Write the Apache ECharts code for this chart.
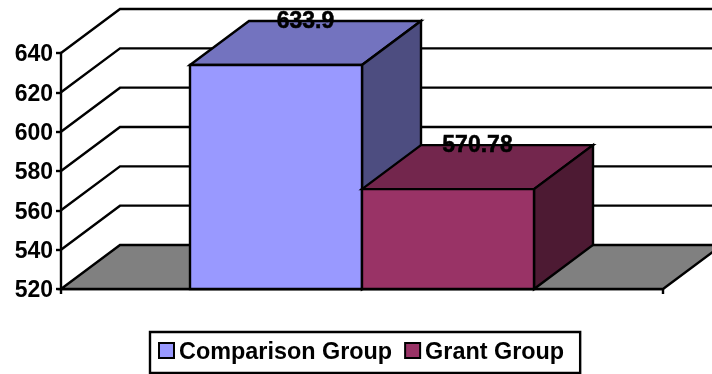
<!DOCTYPE html>
<html><head><meta charset="utf-8">
<style>html,body{margin:0;padding:0;background:#fff}#c{width:712px;height:374px}</style>
<script src="https://cdn.jsdelivr.net/npm/echarts@6/dist/echarts.min.js"></script>
</head><body><div id="c"></div>
<script>
const categories = ['Scores'];
const seriesNames = ['Comparison Group', 'Grant Group'];
const comparisonValues = [633.9];
const grantValues = [570.78];
const labelTexts = ['633.9', '570.78'];
const tickValues = [520, 540, 560, 580, 600, 620, 640];
const frontColors = ['#9999FF', '#993366'];
const topColors = ['#7373BF', '#73264D'];
const sideColors = ['#4D4D80', '#4D1A33'];
const DX = 59, DY = 44, LW = 2.4;
const FONT = 'Liberation Sans';

function poly(points, fill) {
  return { type: 'polygon', shape: { points },
    style: { fill, stroke: '#000', lineWidth: LW, lineJoin: 'miter' } };
}
function wallRender(params, api) {
  const cs = params.coordSys;
  const v = api.value(0);
  const y = api.coord([0, v])[1];
  const x0 = cs.x, x1 = cs.x + cs.width;
  if (v === tickValues[0]) {
    return poly([[x0, y], [x0 + DX, y - DY], [x1 + DX, y - DY], [x1, y]], '#808080');
  }
  return { type: 'polyline', shape: { points: [[x0, y], [x0 + DX, y - DY], [x1 + DX, y - DY]] },
    style: { fill: null, stroke: '#000', lineWidth: LW } };
}
function barRender(idx) {
  return function (params, api) {
    const band = api.size([1, 0])[0];
    const w = band / 3.5;
    const c = api.coord([0, api.value(0)]);
    const base = api.coord([0, tickValues[0]])[1];
    const l = c[0] - w + idx * w, r = l + w, t = c[1];
    return { type: 'group', children: [
      poly([[l, t], [l + DX, t - DY], [r + DX, t - DY], [r, t]], topColors[idx]),
      poly([[r, t], [r + DX, t - DY], [r + DX, base - DY], [r, base]], sideColors[idx]),
      poly([[l, t], [r, t], [r, base], [l, base]], frontColors[idx]),
      { type: 'text', z2: 100, style: { text: labelTexts[idx], x: (l + r) / 2 + DX / 2, y: t - DY + 1,
        align: 'center', verticalAlign: 'middle', fill: '#000', stroke: '#000', lineWidth: 0.5,
        font: 'bold 23px "' + FONT + '"' } }
    ] };
  };
}
const chart = echarts.init(document.getElementById('c'), null, { renderer: 'canvas' });
chart.setOption({
  animation: false,
  backgroundColor: '#fff',
  grid: { left: 61, right: 49, top: 53, bottom: 85, containLabel: false },
  xAxis: { type: 'category', data: categories,
    axisLabel: { show: false },
    axisLine: { lineStyle: { color: '#000', width: LW } },
    axisTick: { show: true, length: 5, alignWithLabel: false, lineStyle: { color: '#000', width: LW } } },
  yAxis: { type: 'value', min: 520, max: 640, interval: 20,
    splitLine: { show: false },
    axisLine: { show: true, lineStyle: { color: '#000', width: LW } },
    axisTick: { show: true, length: 5, lineStyle: { color: '#000', width: LW } },
    axisLabel: { color: '#000', fontFamily: FONT, fontWeight: 'bold', fontSize: 23, margin: 8,
      formatter: '{a|{value}}',
      rich: { a: { color: '#000', fontFamily: FONT, fontWeight: 'bold', fontSize: 23, padding: [4, 0, 0, 0] } } } },
  legend: {
    show: true, left: 150, top: 332, orient: 'horizontal',
    data: seriesNames,
    itemWidth: 15, itemHeight: 15, itemGap: 12, icon: 'rect',
    padding: [9, 16, 9, 8],
    borderColor: '#000', borderWidth: 2.4,
    formatter: '{a|{name}}',
    textStyle: { color: '#000', fontFamily: FONT, fontWeight: 'bold', fontSize: 23.4,
      rich: { a: { color: '#000', fontFamily: FONT, fontWeight: 'bold', fontSize: 23.4, padding: [4, 0, 0, 0] } } }
  },
  series: [
    { type: 'custom', silent: true, z: 1, data: tickValues.map(v => [v]), encode: { y: 0 },
      renderItem: wallRender, coordinateSystem: 'cartesian2d' },
    { type: 'custom', name: seriesNames[0], z: 2, data: comparisonValues.map(v => [v]), encode: { y: 0 },
      renderItem: barRender(0), itemStyle: { color: frontColors[0], borderColor: '#000', borderWidth: 2.4 } },
    { type: 'custom', name: seriesNames[1], z: 3, data: grantValues.map(v => [v]), encode: { y: 0 },
      renderItem: barRender(1), itemStyle: { color: frontColors[1], borderColor: '#000', borderWidth: 2.4 } }
  ]
});
</script></body></html>
